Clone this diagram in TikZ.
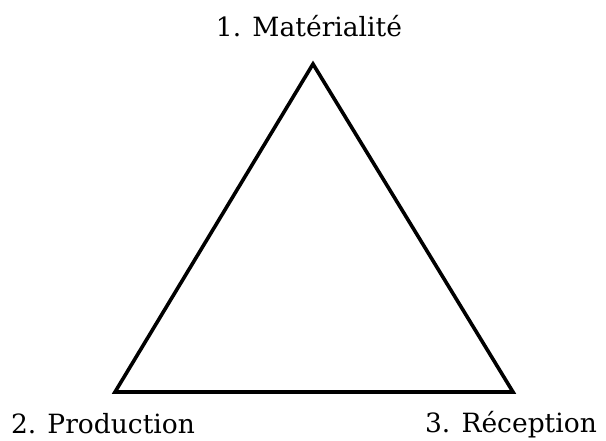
\documentclass[tikz,border=0pt]{standalone}
\usepackage{fontspec}
\setmainfont{DejaVu Serif}
\begin{document}
\begin{tikzpicture}[
    x=1pt, y=-1pt,
    etiquette/.style={font=\fontsize{26.5}{30}\selectfont, inner sep=0pt, anchor=base},
    cote/.style={line width=3.6pt, line join=miter}
]
\useasboundingbox (0,0) rectangle (606,441);

% Sommets
\coordinate (mat) at (313,64);
\coordinate (prod) at (115,392);
\coordinate (rec) at (513,392);

% Triangle
\draw[cote] (mat) -- (prod) -- (rec) -- cycle;

% Etiquettes
\node[etiquette] (tmat) at (309,37) {1. Matérialité};
\node[etiquette] (tprod) at (103,433) {2. Production};
\node[etiquette] (trec) at (511,432) {3. Réception};

\end{tikzpicture}
\end{document}
